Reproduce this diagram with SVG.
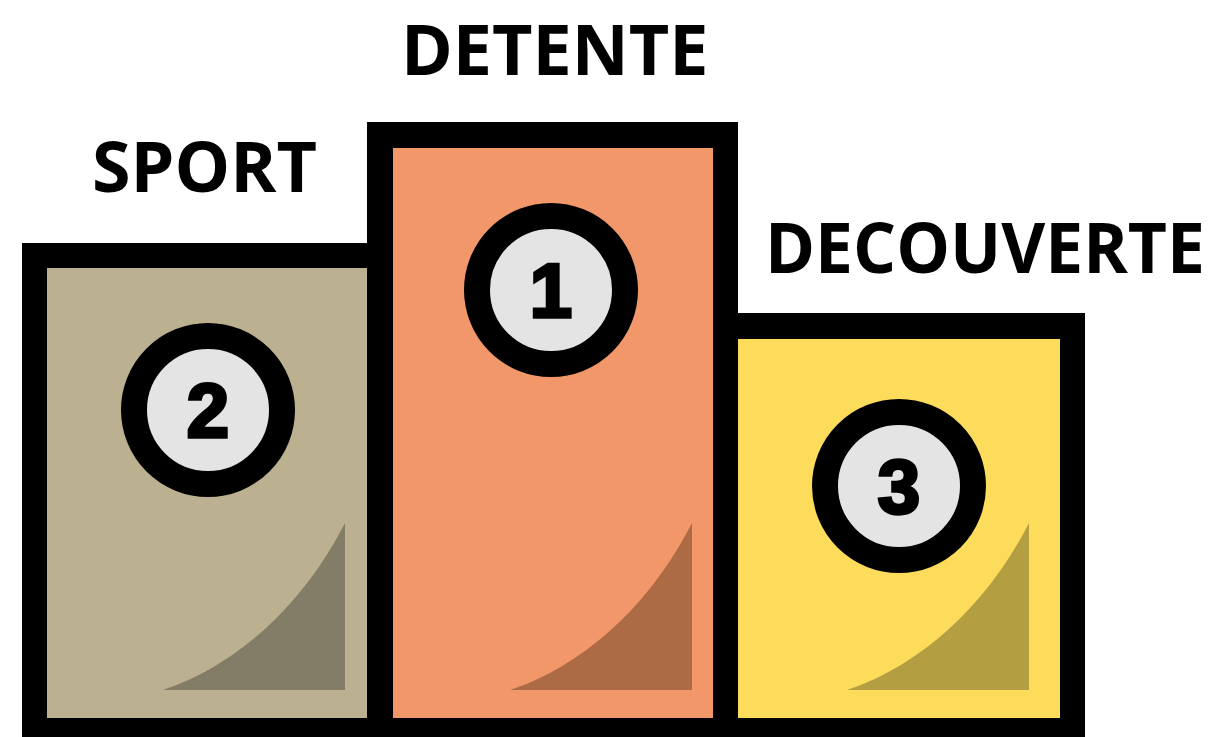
<svg xmlns="http://www.w3.org/2000/svg" width="1221" height="737" viewBox="0 0 1221 737">
<style>
.lbl{font-family:"Open Sans","Liberation Sans",sans-serif;font-weight:700;font-size:70px;fill:#000}
.num{font-family:"Liberation Sans",Arial,sans-serif;font-weight:700;font-size:76px;fill:#000;stroke:#000;stroke-width:3.5;text-anchor:middle}
.ring{fill:#E4E4E4;stroke:#000;stroke-width:26}
</style>
<defs>
<path id="shade" d="M163,690 C210,675 290,630 345,523 L345,690 Z"/>
</defs>
<rect width="1221" height="737" fill="#fff"/>
<g id="podium-2">
<rect x="22" y="243" width="371" height="494" fill="#000"/>
<rect x="47" y="268" width="320" height="450" fill="#BBB08F"/>
<use href="#shade" fill="#837C66"/>
<circle class="ring" cx="208" cy="410" r="74"/>
<text class="num" x="208" y="437">2</text>
<text class="lbl" x="92" y="192">SPORT</text>
</g>
<g id="podium-1">
<rect x="367" y="122" width="371" height="615" fill="#000"/>
<rect x="393" y="148" width="320" height="570" fill="#F2976A"/>
<use href="#shade" x="347" fill="#AD6B45"/>
<circle class="ring" cx="551" cy="290" r="74"/>
<text class="num" x="551" y="317">1</text>
<text class="lbl" x="401" y="75">DETENTE</text>
</g>
<g id="podium-3">
<rect x="713" y="313" width="372" height="424" fill="#000"/>
<rect x="738" y="339" width="322" height="379" fill="#FDDC5C"/>
<use href="#shade" x="684" fill="#B49E42"/>
<circle class="ring" cx="899" cy="486" r="74"/>
<text class="num" x="899" y="513">3</text>
<text class="lbl" x="765" y="273" textLength="440" lengthAdjust="spacingAndGlyphs">DECOUVERTE</text>
</g>
<g id="connectors"/>
</svg>
